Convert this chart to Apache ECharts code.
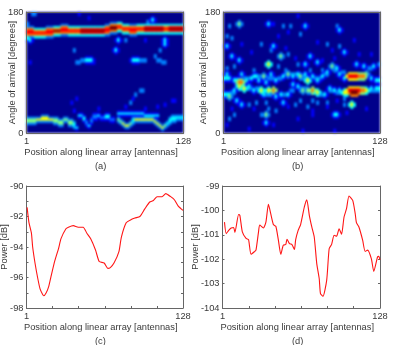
<!DOCTYPE html>
<html><head><meta charset="utf-8">
<style>
html,body{margin:0;padding:0;background:#fff;width:399px;height:345px;overflow:hidden}
#heat,#main{position:absolute;left:0;top:0;width:399px;height:345px}
#heat{filter:blur(0.8px)}
#main{filter:blur(0.35px)}
</style>
<script src="https://cdn.jsdelivr.net/npm/echarts@6/dist/echarts.min.js"></script>
</head><body>
<div id="heat"></div><div id="main"></div>
<script>
const xTitle = 'Position along linear array [antennas]';
const angleTitle = 'Angle of arrival [degrees]';
const powerTitle = 'Power [dB]';
const panelNames = ['(a)', '(b)', '(c)', '(d)'];
const jetColors = ['#00008b','#0000ff','#0080ff','#00ffff','#80ff80','#ffff00','#ff8000','#ff0000','#800000'];
const COLS = 64, ROWS = 60;

// ridge stacks: [first column, column count, first row (0 = top), colour levels going down]
const ridgesA = [
[0,3,7,[2,6,7,7,6,2]],[3,5,8,[3,6,7,6,3]],[8,3,7,[2,6,7,7,6,2]],[11,3,7,[3,6,8,6,3]],[14,3,6,[2,6,7,7,6,2]],
[17,5,7,[3,6,7,6,3]],[22,10,7,[3,7,8,7,3]],[32,2,6,[2,6,7,7,6,2]],[34,3,5,[2,6,8,8,6,2]],[37,2,5,[3,6,7,6,3]],
[39,3,6,[3,6,7,6,3]],[42,3,6,[2,6,7,7,6,2]],[45,3,6,[3,6,7,6,3]],[48,8,6,[3,7,8,7,3]],[56,2,6,[3,6,7,6,3]],[58,6,6,[3,7,8,7,3]],
[0,4,52,[2,4,4,2]],[4,2,52,[2,5,2]],[6,3,51,[2,5,5,2]],[9,2,52,[2,5,2]],[11,2,52,[2,4,4,2]],[13,2,53,[2,4,4,2]],
[15,2,52,[2,4,2]],[17,2,53,[2,4,4,2]],[19,1,54,[2,3,3,2]],[20,1,56,[1,3,1]],
[21,2,50,[1,3,1]],[23,1,51,[1,3,3,1]],[24,1,53,[1,2,2,1]],[25,1,55,[1,3,1]],[26,1,52,[1,2,2,1]],[27,2,50,[1,2,2,1]],
[29,1,50,[1,3,1]],[30,2,51,[1,2,1]],[32,2,50,[1,3,3,1]],[34,2,52,[1,2,1]],
[37,11,49,[1,3,1]],[48,6,50,[1,3,1]],
[37,1,52,[2,4,2]],[38,1,53,[2,4,2]],[39,1,54,[2,5,2]],[40,2,55,[2,5,2]],[42,1,54,[2,4,2]],[43,1,52,[2,3,3,2]],
[44,7,52,[2,5,2]],[51,1,52,[2,5,2]],[52,1,53,[2,5,2]],[53,1,54,[2,5,2]],[54,1,55,[2,5,2]],[55,1,56,[2,5,2]],[56,1,55,[2,4,2]],[57,1,54,[2,3,2]],
[58,1,52,[2,3,3,2]],[59,2,51,[2,3,3,2]],[61,3,51,[2,3,2]]
];
// isolated spots: [row, first column, run length, peak level]
const spotsA = [
[12,0,1,3],[13,1,1,3],[5,0,1,2],
[0,2,2,2],[0,21,1,1],[2,25,1,1],[3,51,1,3],[4,49,1,2],[13,37,1,3],[13,40,1,2],[13,56,1,3],[15,56,1,3],[13,48,1,1],
[18,19,1,2],[18,36,1,3],[18,54,1,2],[21,52,1,2],
[24,1,1,1],[24,20,2,2],[23,22,2,2],[23,24,3,3],[24,27,1,1],[23,43,3,3],[23,46,3,2],[23,53,2,2],[24,55,2,2],
[38,46,2,2],[40,44,1,2],[42,43,1,1],[44,42,1,2],[43,59,2,1],[45,56,1,1],[46,53,1,1],[47,48,1,1],[42,20,1,1],[44,18,1,1],[48,19,1,1],[47,29,1,1],[46,40,1,1]
];
const spotsB = [
// faint pieces along the two bands
[32,8,3,2],[31,14,2,2],[32,18,3,2],[32,22,2,2],[30,27,3,2],[32,32,2,2],[32,37,3,2],[30,41,2,2],[28,45,2,2],[29,48,2,2],
[39,3,2,2],[37,7,1,2],[37,10,2,2],[37,13,2,2],[40,17,3,2],[40,24,2,2],[38,27,2,2],[37,31,3,2],[39,35,3,2],[40,39,2,2],[38,43,2,2],[39,46,3,2],[38,60,4,2],
// upper band
[32,0,3,3],[33,4,4,3],[34,6,2,6],[30,7,1,3],[33,9,1,3],
[32,11,1,3],[31,12,2,3],[33,14,1,3],[31,16,1,4],[34,17,1,3],[30,19,1,3],[33,21,1,3],
[31,24,1,3],[30,26,1,4],[31,28,1,3],[30,30,1,3],[31,31,1,4],[30,33,1,3],
[33,34,1,5],[31,36,1,3],[33,38,1,3],[31,40,1,3],[29,42,1,3],[26,44,1,4],[27,46,1,3],[30,47,1,3],[32,49,1,3],
[31,51,4,7],[31,55,3,6],[30,58,1,4],[32,60,1,3],[33,62,2,3],
[25,54,1,3],[26,57,1,3],[26,61,1,3],[25,63,1,2],[27,59,2,2],
// lower band
[40,0,3,3],[41,2,1,4],[38,4,1,3],[36,6,1,5],[37,8,1,5],[36,10,1,3],[38,12,1,3],
[38,15,1,5],[40,16,1,3],[38,18,1,5],[38,20,1,6],[41,21,1,3],[40,23,1,3],[40,26,1,3],
[35,28,1,3],[36,30,1,3],[38,32,1,4],[38,34,1,4],[38,36,1,6],[39,38,1,5],[40,41,1,3],[37,43,1,3],[38,45,1,3],[38,47,1,3],
[39,49,2,5],[38,51,5,7],[39,52,3,8],[38,56,2,6],[38,58,1,5],[37,60,1,3],[37,62,2,3],
// scatter above and below the bands
[5,6,1,4],[6,2,1,2],[5,18,1,3],[6,24,1,2],[5,20,1,1],[6,27,1,2],[6,33,1,3],[10,31,1,2],[8,47,1,3],[6,46,1,2],[9,26,1,1],[1,30,1,1],[11,22,1,1],
[16,1,1,3],[11,1,1,2],[12,3,1,2],[15,15,1,2],[16,20,1,3],[18,19,1,2],[21,23,1,4],[25,18,1,5],[23,6,1,3],[21,3,1,3],[20,26,1,2],[21,35,1,3],[24,38,1,3],[15,42,1,2],[16,47,1,2],[19,49,1,3],[20,55,1,1],[22,45,1,1],[25,33,1,3],[26,4,1,2],[30,1,1,3],[28,12,1,2],[26,22,1,2],[25,30,1,2],[27,1,1,2],[22,29,1,1],[17,25,1,1],[14,38,1,1],[13,53,1,1],[18,44,1,1],[20,60,1,1],[15,7,1,1],[19,11,1,1],[23,40,1,1],[28,40,1,2],[28,25,1,2],[28,35,1,2],
[45,7,1,3],[45,10,1,2],[50,4,1,2],[52,2,1,2],[50,17,1,4],[54,17,1,3],[47,18,1,2],[48,21,1,2],[50,15,1,2],[57,10,1,1],[58,32,1,1],[52,30,1,1],[46,34,1,2],[48,36,1,1],[44,42,1,2],[44,38,1,2],[58,45,1,1],[49,50,1,1],[47,58,1,1],[42,49,1,2],[45,49,1,2],[44,24,1,3],[44,17,1,2],[44,13,1,2],[45,29,1,2],[43,5,1,3],
[45,52,1,5],[50,45,2,3],[47,12,1,1],[55,20,1,1],[50,36,1,1],[46,42,1,1],[43,31,1,2],[43,36,1,2],[46,26,1,1],[47,3,1,1],[43,46,1,1],[55,1,1,1]
];

// line charts: antenna position and power in dB
const antennasC = [1.5,3,5,6,8,10,12,14,15,17,19,21,24,27,29,33,35,39,43,47,50,53,57,60,64,67,69,72,76,78,82,86,89,93,97,101,104,107,111,114,118,121,124,128];
const powerC = [-91.4,-92.4,-93.1,-94,-95.1,-96,-96.75,-97.1,-97.2,-97,-96.6,-95.9,-94.9,-94.1,-93.45,-92.8,-92.7,-92.6,-92.7,-92.7,-93.1,-93.45,-94.2,-94.95,-95.05,-95.4,-95.35,-95.05,-94.3,-93.35,-92.4,-92.2,-92.1,-92,-91.5,-91.05,-90.95,-90.7,-90.7,-90.5,-90.7,-90.9,-91.3,-91.6];
const antennasD = [2.6,4,6,8,10,11,14,15,17,20,22,24,27,28,30,31,34,36,38,39,42,44,46,48,50,52,53,55,57,59,60,62,64,67,69,71,73,75,77,79,80,82,85,87,89,91,93,95,97,99,101,103,106,108,109,111,114,116,118,121,123,126,127,128];
const powerD = [-100.48,-100.95,-100.82,-100.72,-100.7,-100.9,-100.17,-100.2,-100.88,-101.15,-101.2,-101.8,-101.68,-101.63,-100.9,-100.6,-100.72,-100.48,-99.75,-99.93,-100.58,-100.65,-101.2,-101.8,-101.43,-101.4,-101.18,-101.36,-101.4,-101.6,-101.2,-100.82,-100.58,-99.86,-99.57,-100.2,-100.68,-101.1,-102.18,-102.8,-103.41,-103.52,-102.87,-101.57,-101.39,-101.02,-101.06,-100.75,-100.98,-100.27,-99.93,-99.41,-99.59,-100.13,-100.5,-100.68,-101.22,-101.68,-101.63,-101.98,-102.5,-101.91,-101.88,-102.02];
const xTickValues = [1,22.17,43.33,64.5,85.67,106.83,128];

const boxes = [
  {left:26.5,top:12,width:157,height:121,outerBoundsMode:'none'},
  {left:223.5,top:12,width:156.5,height:121,outerBoundsMode:'none'},
  {left:26.5,top:186,width:156.5,height:122,outerBoundsMode:'none'},
  {left:222.5,top:186,width:157.5,height:122,outerBoundsMode:'none'}
];
const font = 'Liberation Sans';
const textColor = '#3a3a3a';
const lineColor = '#666';

function table(ridges,spots){
  const m = new Array(ROWS*COLS).fill(0);
  const put=(r,c,v)=>{if(r>=0&&r<ROWS&&c>=0&&c<COLS&&v>0){const k=r*COLS+c;m[k]=Math.max(m[k],v);}};
  ridges.forEach(([c0,n,r0,levels])=>{for(let c=c0;c<c0+n;c++)levels.forEach((v,i)=>put(r0+i,c,v));});
  spots.forEach(([r,c0,n,v])=>{
    for(let c=c0;c<c0+n;c++){
      put(r,c,v);put(r+1,c,v);
      put(r-1,c,v-2);put(r+2,c,v-2);
    }
    put(r,c0-1,v-2);put(r+1,c0-1,v-2);put(r,c0+n,v-2);put(r+1,c0+n,v-2);
  });
  const out=[];
  for(let r=0;r<ROWS;r++)for(let c=0;c<COLS;c++){const v=m[r*COLS+c];if(v>0)out.push([c,r,v]);}
  return out;
}
const colNames = Array.from({length:COLS},(_,i)=>i), rowNames = Array.from({length:ROWS},(_,i)=>i);
const heat = echarts.init(document.getElementById('heat'),null,{renderer:'canvas'});
heat.setOption({
  animation:false,
  grid:boxes.slice(0,2).map(b=>({...b,show:true,backgroundColor:jetColors[0],borderWidth:0})),
  xAxis:[0,1].map(g=>({type:'category',gridIndex:g,data:colNames,show:false})),
  yAxis:[0,1].map(g=>({type:'category',gridIndex:g,data:rowNames,inverse:true,show:false})),
  visualMap:{show:false,min:0,max:8,dimension:2,seriesIndex:[0,1],inRange:{color:jetColors}},
  series:[table(ridgesA,spotsA),table([],spotsB)].map((data,g)=>({type:'heatmap',xAxisIndex:g,yAxisIndex:g,data,progressive:0,silent:true,emphasis:{disabled:true}}))
});

function xAxisOf(g,opts){
  return {type:'value',gridIndex:g,min:1,max:128,
    axisLine:{show:true,onZero:false,lineStyle:{color:lineColor,width:1}},
    splitLine:{show:false},
    ...opts};
}
const labelStyle = {color:textColor,fontFamily:font,fontSize:9.3};
const xAxes=[], yAxes=[];
[0,1,2,3].forEach(g=>{
  const isLine = g>=2;
  xAxes.push(xAxisOf(g,{position:'bottom',name:xTitle,nameLocation:'middle',nameGap:15,nameMoveOverlap:false,
    nameTextStyle:{color:textColor,fontFamily:font,fontSize:9.3,padding:[0,8,0,0]},
    axisTick:isLine?{show:true,inside:true,length:2,customValues:xTickValues,lineStyle:{color:lineColor}}:{show:false},
    axisLabel:{...labelStyle,margin:4,customValues:[1,128],formatter:v=>String(Math.round(v))}}));
  xAxes.push(xAxisOf(g,{position:'top',axisTick:{show:false},axisLabel:{show:false}}));
  const yRange = g===2?{min:-98,max:-90,interval:1}:g===3?{min:-104,max:-99,interval:1}:{min:0,max:180,interval:180};
  const yName = isLine?powerTitle:angleTitle;
  yAxes.push({type:'value',gridIndex:g,position:'left',...yRange,name:yName,nameLocation:'middle',nameMoveOverlap:false,
    nameGap:g===0?10:g===1?16:g===2?18:23,
    nameTextStyle:{color:textColor,fontFamily:font,fontSize:9.3},
    axisLine:{show:true,onZero:false,lineStyle:{color:lineColor}},splitLine:{show:false},
    axisTick:isLine?{show:true,inside:true,length:2,lineStyle:{color:lineColor}}:{show:false},
    axisLabel:{...labelStyle,margin:3,formatter:v=>(g===2&&Math.abs(v)%2===1)?'':String(v)}});
  yAxes.push({type:'value',gridIndex:g,position:'right',...yRange,
    axisLine:{show:true,onZero:false,lineStyle:{color:lineColor}},splitLine:{show:false},
    axisTick:isLine?{show:true,inside:true,length:2,lineStyle:{color:lineColor}}:{show:false},
    axisLabel:{show:false}});
});
const main = echarts.init(document.getElementById('main'),null,{renderer:'canvas'});
main.setOption({
  animation:false,
  grid:boxes,
  xAxis:xAxes,yAxis:yAxes,
  title:panelNames.map((t,i)=>({text:t,left:i%2?292:95,top:i<2?162:337,textStyle:{color:textColor,fontFamily:font,fontSize:9.3,fontWeight:'normal'},padding:0})),
  series:[
    {type:'line',xAxisIndex:4,yAxisIndex:4,symbol:'none',smooth:0.2,silent:true,data:antennasC.map((a,i)=>[a,powerC[i]]),lineStyle:{color:'#ff1515',width:1.1}},
    {type:'line',xAxisIndex:6,yAxisIndex:6,symbol:'none',smooth:0.2,silent:true,data:antennasD.map((a,i)=>[a,powerD[i]]),lineStyle:{color:'#ff1515',width:1.1}}
  ]
});
</script>
</body></html>
